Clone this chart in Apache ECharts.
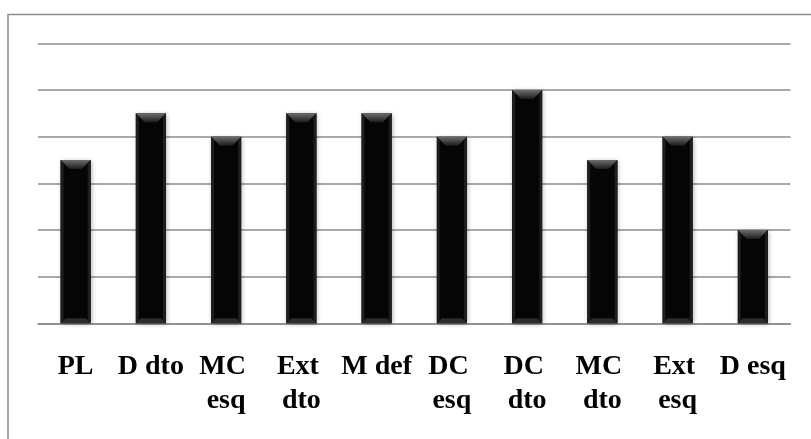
<!DOCTYPE html>
<html>
<head>
<meta charset="utf-8">
<script src="https://cdn.jsdelivr.net/npm/echarts@6/dist/echarts.min.js"></script>
<style>html,body{margin:0;padding:0;background:#fff}#c{width:811px;height:439px}</style>
</head>
<body>
<div id="c"></div>
<script>
var categories = ["PL", "D dto", "MC esq", "Ext dto", "M def", "DC esq", "DC dto", "MC dto", "Ext esq", "D esq"];
var values = [3.5, 4.5, 4, 4.5, 4.5, 4, 5, 3.5, 4, 2];
var yTicks = [0, 1, 2, 3, 4, 5, 6];

var chart = echarts.init(document.getElementById('c'));
var BAR_FRAC = 0.4;
chart.setOption({
  animation: false,
  backgroundColor: '#ffffff',
  graphic: [{
    type: 'rect', silent: true, z: -1,
    shape: {x: 8, y: 14.5, width: 830, height: 440},
    style: {fill: 'none', stroke: '#8c8c8c', lineWidth: 1.5}
  }],
  grid: {left: 38, right: 20.5, top: 43.3, bottom: 115.7, containLabel: false},
  xAxis: {
    type: 'category',
    data: categories,
    boundaryGap: true,
    axisLine: {lineStyle: {color: '#8c8c8c', width: 1.5}},
    axisTick: {length: 8, lineStyle: {color: '#8c8c8c', width: 1.5}},
    axisLabel: {
      interval: 0,
      margin: 26,
      color: '#000',
      fontFamily: 'Liberation Serif',
      fontWeight: 'bold',
      fontSize: 28,
      lineHeight: 34,
      width: 76,
      overflow: 'break'
    }
  },
  yAxis: {
    type: 'value',
    min: yTicks[0],
    max: yTicks[yTicks.length - 1],
    interval: 1,
    axisLabel: {show: false},
    axisLine: {show: false},
    axisTick: {show: false},
    splitLine: {lineStyle: {color: '#8c8c8c', width: 1.5}}
  },
  series: [{
    type: 'bar',
    data: values,
    barWidth: '40%',
    itemStyle: {
      color: '#050505',
      shadowBlur: 5,
      shadowColor: 'rgba(0,0,0,0.35)',
      shadowOffsetX: 1,
      shadowOffsetY: 1
    }
  }, {
    type: 'custom',
    z: 3,
    silent: true,
    data: values.map(function (v, i) { return [i, v]; }),
    renderItem: function (params, api) {
      var i = api.value(0), v = api.value(1);
      var top = api.coord([i, v]);
      var bot = api.coord([i, 0]);
      var w = api.size([1, 0])[0] * BAR_FRAC;
      var x0 = top[0] - w / 2, x1 = top[0] + w / 2;
      var yt = top[1], yb = bot[1];
      var b = 9, bb = 5, s = 3;
      return {
        type: 'group',
        children: [{
          type: 'polygon',
          shape: {points: [[x0, yt], [x1, yt], [x1 - b, yt + b], [x0 + b, yt + b]]},
          style: {fill: new echarts.graphic.LinearGradient(0, 0, 0, 1, [
            {offset: 0, color: '#6e6e6e'}, {offset: 1, color: '#1c1c1c'}])}
        }, {
          type: 'polygon',
          shape: {points: [[x0, yt], [x0 + s, yt + s], [x0 + s, yb - s], [x0, yb]]},
          style: {fill: '#1e1e1e'}
        }, {
          type: 'polygon',
          shape: {points: [[x1, yt], [x1 - s, yt + s], [x1 - s, yb - s], [x1, yb]]},
          style: {fill: '#1e1e1e'}
        }, {
          type: 'polygon',
          shape: {points: [[x0, yb], [x1, yb], [x1 - bb, yb - bb], [x0 + bb, yb - bb]]},
          style: {fill: '#2c2c2c'}
        }]
      };
    }
  }]
});
</script>
</body>
</html>
